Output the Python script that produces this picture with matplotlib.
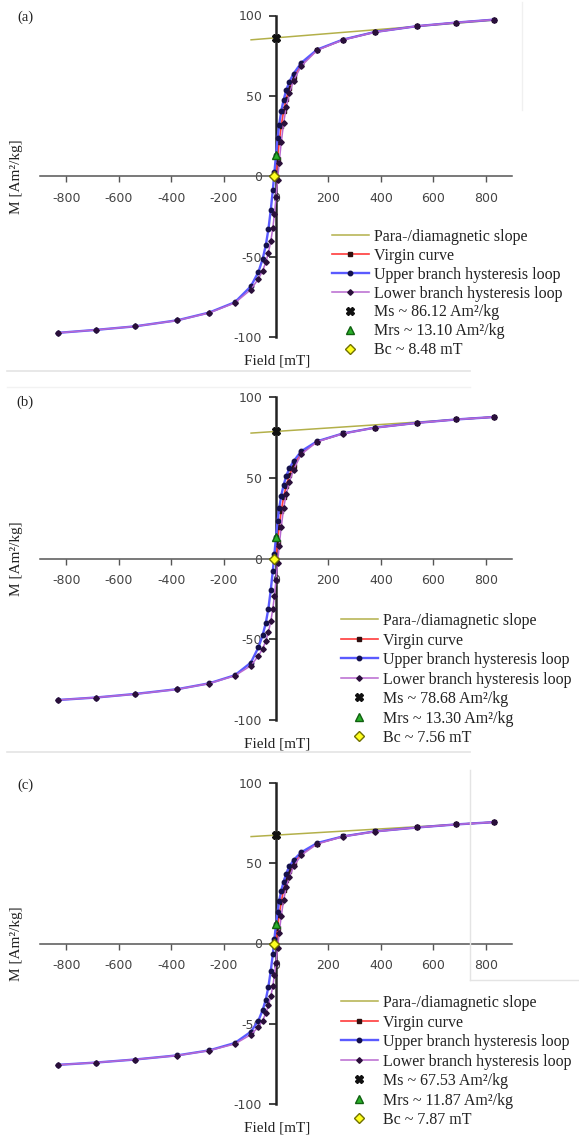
import matplotlib
matplotlib.use("Agg")
import matplotlib.pyplot as plt
from matplotlib.lines import Line2D

plt.rcParams['axes.unicode_minus'] = False

# ---------------- data ----------------
H_upper = [830, 688, 539, 376, 255, 157, 96, 67, 51, 39, 29, 20, 12, 6, 0,
           -6, -12, -20, -29, -39, -51, -67, -96, -157, -255, -376, -539, -688, -830]
H_lower = [-830, -688, -539, -376, -255, -157, -96, -67, -51, -39, -29, -20, -12, -6, 0,
           6, 12, 20, 29, 39, 51, 67, 96, 157, 255, 376, 539, 688, 830]
H_virgin = [0, 6, 12, 20, 29, 39, 51, 67, 96, 157, 255, 376, 539, 688, 830]
para_H = [-95, 830]

upper_a = [97.4, 95.6, 93.4, 89.7, 85.0, 78.8, 70.5, 63.8, 58.8, 53.5, 47.5, 40.5, 32.0, 23.5, 13.1,
           2.5, -8.5, -21.0, -33.0, -43.0, -51.5, -59.5, -68.5, -78.4, -84.8, -89.6, -93.4, -95.6, -97.4]
lower_a = [-97.4, -95.6, -93.4, -89.7, -85.0, -78.8, -70.5, -63.8, -58.8, -53.5, -47.5, -40.5, -32.0, -23.5, -13.1,
           -2.5, 8.5, 21.0, 33.0, 43.0, 51.5, 59.5, 68.5, 78.4, 84.8, 89.6, 93.4, 95.6, 97.4]
virgin_a = [0.0, 11.0, 21.0, 31.5, 40.5, 48.0, 55.0, 61.5, 69.5, 78.6, 84.9, 89.7, 93.4, 95.6, 97.4]
para_a = [84.87, 97.08]

upper_b = [87.6, 86.1, 84.0, 81.0, 77.4, 72.6, 66.4, 60.2, 56.0, 51.0, 45.5, 39.0, 31.0, 23.0, 13.3,
           3.0, -7.5, -19.5, -31.0, -40.0, -47.5, -55.0, -64.5, -72.3, -77.3, -80.9, -83.9, -86.1, -87.6]
lower_b = [-87.6, -86.1, -84.0, -81.0, -77.4, -72.6, -66.4, -60.2, -56.0, -51.0, -45.5, -39.0, -31.0, -23.0, -13.3,
           -3.0, 7.5, 19.5, 31.0, 40.0, 47.5, 55.0, 64.5, 72.3, 77.3, 80.9, 83.9, 86.1, 87.6]
virgin_b = [0.0, 10.5, 19.5, 29.5, 38.0, 45.0, 51.5, 57.5, 65.5, 72.4, 77.4, 81.0, 84.0, 86.1, 87.6]
para_b = [77.66, 87.6]

upper_c = [75.6, 74.2, 72.3, 69.8, 66.7, 62.6, 56.8, 52.0, 48.0, 43.5, 38.5, 33.0, 26.5, 19.5, 11.87,
           3.0, -6.5, -17.0, -27.0, -35.0, -41.5, -48.0, -55.0, -62.0, -66.6, -69.7, -72.3, -74.2, -75.6]
lower_c = [-75.6, -74.2, -72.3, -69.8, -66.7, -62.6, -56.8, -52.0, -48.0, -43.5, -38.5, -33.0, -26.5, -19.5, -11.87,
           -3.0, 6.5, 17.0, 27.0, 35.0, 41.5, 48.0, 55.0, 62.0, 66.6, 69.7, 72.3, 74.2, 75.6]
virgin_c = [0.0, 9.5, 17.5, 26.0, 33.5, 39.5, 45.0, 50.0, 56.0, 62.3, 66.7, 69.8, 72.3, 74.2, 75.6]
para_c = [66.61, 75.6]

Ms_vals = [86.12, 78.68, 67.53]
Mrs_vals = [13.10, 13.30, 11.87]
Bc_vals = [8.48, 7.56, 7.87]
panel_labels = ['(a)', '(b)', '(c)']

x_ticks = [-800, -600, -400, -200, 0, 200, 400, 600, 800]
y_ticks = [-100, -50, 0, 50, 100]

# ---------------- layout ----------------
W, Hpx = 579, 1135
fig = plt.figure(figsize=(W / 100, Hpx / 100), dpi=100)

def fx(px):
    return px / W

def fy(py):
    return 1 - py / Hpx

panels = [
    dict(top=15.5, bottom=337, upper=upper_a, lower=lower_a, virgin=virgin_a, para=para_a,
         leg_x=332, leg_top=229, leg_sp=0.18, lab_y=17),
    dict(top=397, bottom=720, upper=upper_b, lower=lower_b, virgin=virgin_b, para=para_b,
         leg_x=341, leg_top=613, leg_sp=0.22, lab_y=402),
    dict(top=783, bottom=1104, upper=upper_c, lower=lower_c, virgin=virgin_c, para=para_c,
         leg_x=341, leg_top=995, leg_sp=0.22, lab_y=785),
]

left_px, right_px = 40, 512
serif = ['Liberation Serif', 'DejaVu Serif']

for i, p in enumerate(panels):
    ax = fig.add_axes([fx(left_px), fy(p['bottom']), fx(right_px - left_px),
                       (p['bottom'] - p['top']) / Hpx])
    ax.set_xlim(-900, 900)
    ax.set_ylim(-100, 100)
    ax.patch.set_alpha(0)

    for s in ['top', 'right']:
        ax.spines[s].set_visible(False)
    ax.spines['left'].set_position(('data', 0))
    ax.spines['bottom'].set_position(('data', 0))
    ax.spines['left'].set_color('#222222')
    ax.spines['left'].set_linewidth(1.8)
    ax.spines['bottom'].set_color('#555555')
    ax.spines['bottom'].set_linewidth(1.1)
    ax.set_xticks(x_ticks)
    ax.set_yticks(y_ticks)
    ax.tick_params(axis='x', direction='out', length=4, width=1, color='#555555',
                   pad=7, labelsize=9, labelcolor='#444444')
    ax.tick_params(axis='y', direction='out', length=5, width=1.2, color='#222222',
                   pad=5, labelsize=9, labelcolor='#444444')

    l_para, = ax.plot(para_H, p['para'], color='#b3b04a', lw=1.1,
                      label='Para-/diamagnetic slope', zorder=2)
    l_vir, = ax.plot(H_virgin, p['virgin'], color='#ff3b3b', lw=1.2, marker='s', ms=2.5,
                     mfc='#301010', mec='#301010', label='Virgin curve', zorder=3)
    l_up, = ax.plot(H_upper, p['upper'], color='#5a5aff', lw=1.7, marker='o', ms=3.2,
                    mfc='#14104a', mec='#14104a', label='Upper branch hysteresis loop', zorder=4)
    l_lo, = ax.plot(H_lower, p['lower'], color='#b868d0', lw=1.1, marker='D', ms=2.8,
                    mfc='#2a0f3a', mec='#2a0f3a', label='Lower branch hysteresis loop', zorder=5)
    l_ms, = ax.plot([0], [Ms_vals[i]], linestyle='none', marker='X', ms=6, color='#111111',
                    mec='#111111', label=f'Ms ~ {Ms_vals[i]:.2f} Am²/kg', zorder=7)
    l_mrs, = ax.plot([0], [Mrs_vals[i]], linestyle='none', marker='^', ms=6, mfc='#2ab02a',
                     mec='#106010', label=f'Mrs ~ {Mrs_vals[i]:.2f} Am²/kg', zorder=7)
    l_bc, = ax.plot([-Bc_vals[i]], [0], linestyle='none', marker='D', ms=5, mfc='#ffff20',
                    mec='#707000', label=f'Bc ~ {Bc_vals[i]:.2f} mT', zorder=7)

    ax.legend(handles=[l_para, l_vir, l_up, l_lo, l_ms, l_mrs, l_bc],
              loc='upper left', bbox_to_anchor=(fx(p['leg_x']), fy(p['leg_top'])),
              bbox_transform=fig.transFigure, frameon=False, borderpad=0, borderaxespad=0,
              handlelength=2.3, handletextpad=0.35, labelspacing=p['leg_sp'],
              prop={'family': serif, 'size': 11.5}, labelcolor='#222222')

    # axis titles
    mid_y = (p['top'] + p['bottom']) / 2
    fig.text(fx(17), fy(mid_y), 'M [Am²/kg]', rotation=90, ha='center', va='center',
             family=serif, fontsize=11, color='#222222')
    fig.text(fx(277), fy(p['bottom'] + 24), 'Field [mT]', ha='center', va='center',
             family=serif, fontsize=11, color='#222222')
    fig.text(fx(25), fy(p['lab_y']), panel_labels[i], ha='center', va='center',
             family=serif, fontsize=10.5, color='#222222')

# faint chart-area frame remnants
sep = '#e4e4e4'
fig.add_artist(Line2D([fx(7), fx(470)], [fy(371), fy(371)], color=sep, lw=1.2))
fig.add_artist(Line2D([fx(522), fx(522)], [fy(2), fy(110)], color='#f0f0f0', lw=1.0))
fig.add_artist(Line2D([fx(7), fx(470)], [fy(752), fy(752)], color=sep, lw=1.2))
fig.add_artist(Line2D([fx(7), fx(470)], [fy(387), fy(387)], color='#f2f2f2', lw=1.0))
fig.add_artist(Line2D([fx(470), fx(470)], [fy(770), fy(980)], color=sep, lw=1.0))
fig.add_artist(Line2D([fx(470), fx(579)], [fy(980), fy(980)], color=sep, lw=1.0))

fig.savefig('out.png', dpi=100)
